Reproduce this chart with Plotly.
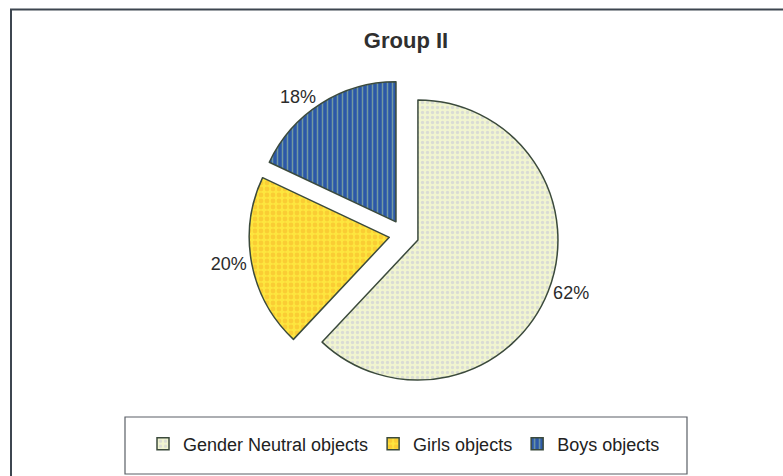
import plotly.graph_objects as go

# Share of objects chosen by Group II
categories = ["Gender Neutral objects", "Girls objects", "Boys objects"]
shares = [62, 20, 18]

W, H = 783, 476
FONT = "Liberation Sans, Arial, sans-serif"

fill_colors = ["#f1f5d0", "#fde63e", "#2c58a8"]
pattern_fg = ["#c3c4d8", "#f7b42a", "#b9dc9a"]
pattern_shape = [".", ".", "|"]
pattern_size = [5, 6, 5]
pattern_solidity = [0.35, 0.5, 0.3]

fig = go.Figure(
    go.Pie(
        labels=categories,
        values=shares,
        sort=False,
        direction="clockwise",
        rotation=0,
        pull=[0.107, 0.107, 0.107],
        domain=dict(x=[249 / W, 559 / W], y=[1 - 389.5 / H, 1 - 79.5 / H]),
        marker=dict(
            colors=fill_colors,
            line=dict(color="#3b4a3c", width=1.5),
            pattern=dict(
                shape=pattern_shape,
                bgcolor=fill_colors,
                fgcolor=pattern_fg,
                size=pattern_size,
                solidity=pattern_solidity,
                fillmode="overlay",
            ),
        ),
        textinfo="percent",
        texttemplate="%{value}%",
        textposition="outside",
        outsidetextfont=dict(family=FONT, size=18, color="#2b2b2b"),
        hoverinfo="label+percent",
    )
)

fig.update_layout(
    width=W,
    height=H,
    margin=dict(l=0, r=0, t=0, b=0),
    paper_bgcolor="white",
    plot_bgcolor="white",
    font=dict(family=FONT, color="#2b2b2b"),
    title=dict(
        text="<b>Group II</b>",
        x=406 / W,
        xanchor="center",
        y=1 - 40 / H,
        yanchor="middle",
        font=dict(size=22, color="#2f2f2f"),
    ),
    legend=dict(
        orientation="h",
        x=404 / W,
        xanchor="center",
        y=1 - 444 / H,
        yanchor="middle",
        borderwidth=0,
        bgcolor="rgba(0,0,0,0)",
        font=dict(size=18, color="#222222"),
        traceorder="normal",
    ),
    shapes=[
        # outer chart frame
        dict(
            type="rect",
            xref="paper",
            yref="paper",
            x0=11 / W,
            x1=1.02,
            y0=-0.02,
            y1=1 - 9.5 / H,
            line=dict(color="#3d4650", width=2),
            fillcolor="rgba(0,0,0,0)",
            layer="below",
        ),
        # legend frame
        dict(
            type="rect",
            xref="paper",
            yref="paper",
            x0=125 / W,
            x1=687 / W,
            y0=1 - 474 / H,
            y1=1 - 417 / H,
            line=dict(color="#5a5f66", width=1.2),
            fillcolor="white",
            layer="below",
        ),
    ],
)

fig.write_html("out.html")
